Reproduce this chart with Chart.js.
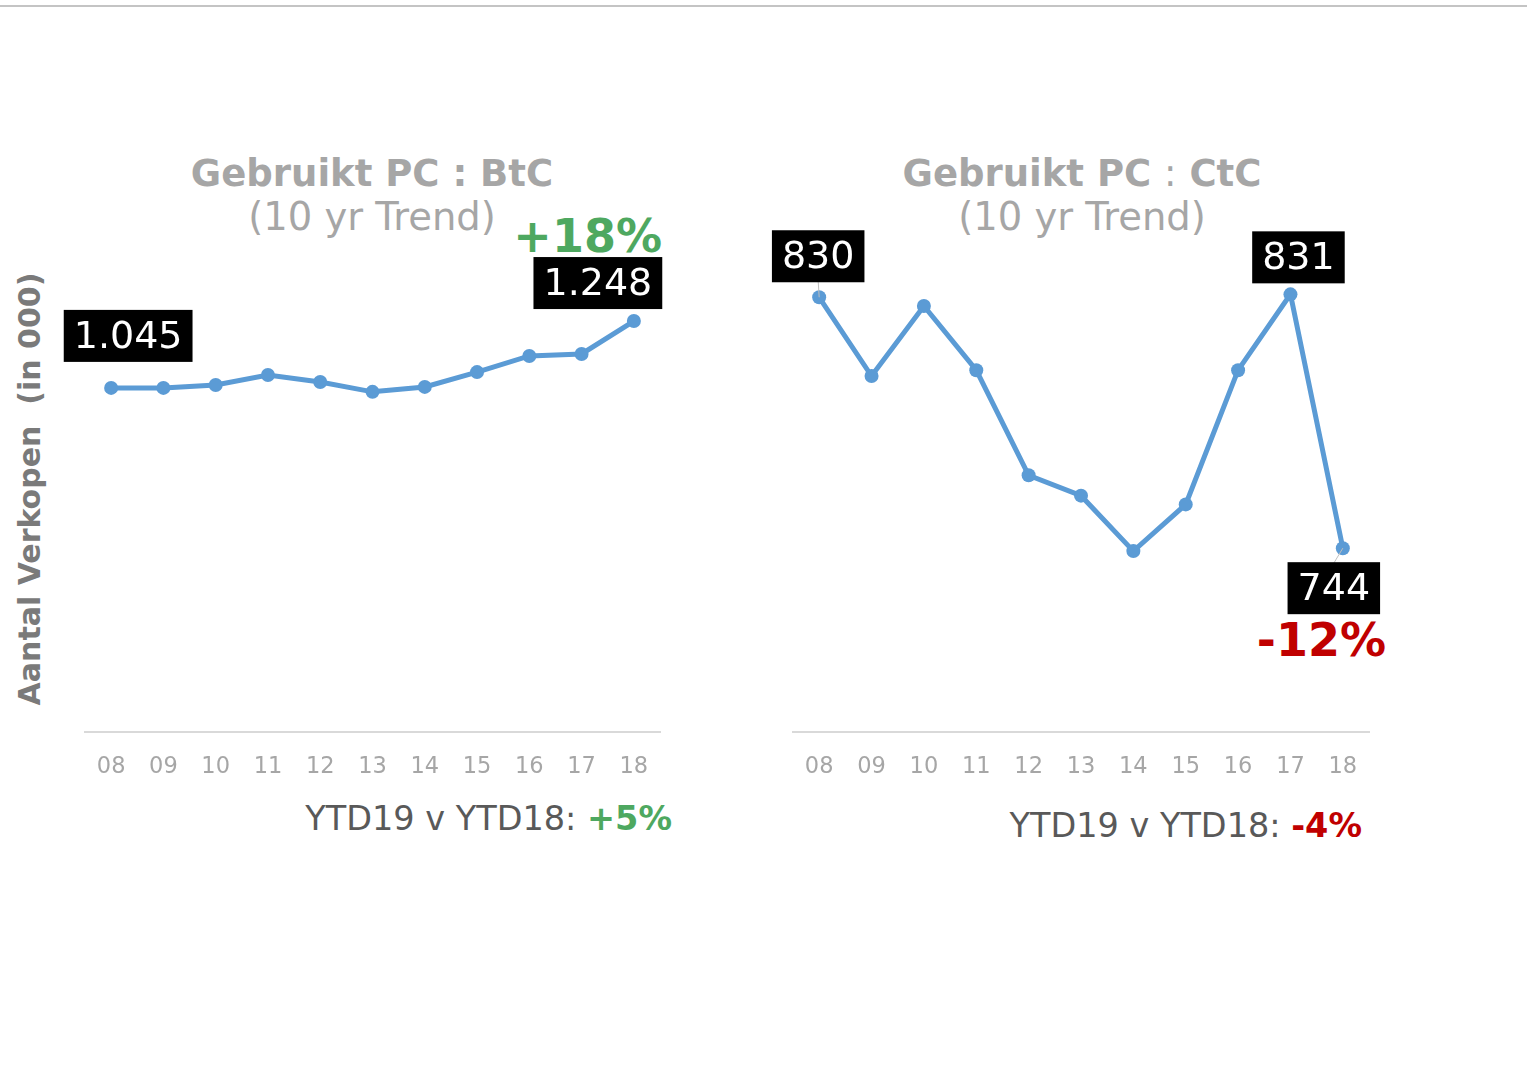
<!DOCTYPE html>
<html>
<head>
<meta charset="utf-8">
<script src="https://cdn.jsdelivr.net/npm/chart.js@4"></script>
<style>
	html, body { margin: 0; padding: 0; background: #fff; }
	body { width: 1527px; height: 1069px; position: relative; overflow: hidden; font-family: "DejaVu Sans", Verdana, sans-serif; }
	.topline { position: absolute; left: 0; top: 5px; width: 1527px; height: 2px; background: #c4c4c4; }
	.txt { position: absolute; white-space: nowrap; line-height: 1; }
	.title { font-size: 37px; font-weight: bold; color: #a6a6a6; text-align: center; width: 600px; }
	.sub { font-size: 38.5px; color: #a6a6a6; text-align: center; width: 600px; }
	.pct { font-size: 46px; font-weight: bold; }
	.ytd { font-size: 33.5px; color: #595959; }
	.green { color: #4ea860; }
	.red { color: #c00000; }
	canvas { position: absolute; top: 0; }
	.ytitle { position: absolute; left: 29px; top: 489px; transform: translate(-50%, -50%) rotate(-90deg); font-size: 30px; font-weight: bold; color: #7a7a7a; white-space: nowrap; }
</style>
</head>
<body>
<div class="topline"></div>

<div class="txt title" style="left:72px; top:155px;">Gebruikt PC : BtC</div>
<div class="txt sub" style="left:72px; top:198px;">(10 yr Trend)</div>
<div class="txt pct green" style="right:865px; top:213px;">+18%</div>

<div class="txt title" style="left:782px; top:155px;">Gebruikt PC <span style="font-weight:normal">:</span> CtC</div>
<div class="txt sub" style="left:782px; top:198px;">(10 yr Trend)</div>
<div class="txt pct red" style="right:141px; top:617px;">-12%</div>

<div class="txt ytd" style="right:855px; top:802px;">YTD19 v YTD18: <b class="green">+5%</b></div>
<div class="txt ytd" style="right:165px; top:809px;">YTD19 v YTD18: <b class="red">-4%</b></div>

<div class="ytitle">Aantal Verkopen&nbsp;&nbsp;(in 000)</div>

<canvas id="btcChart" style="left:0px;"></canvas>
<canvas id="ctcChart" style="left:710px;"></canvas>

<script>
	// years (x-axis categories)
	const years = ["08", "09", "10", "11", "12", "13", "14", "15", "16", "17", "18"];

	// aantal verkopen (in 000)
	const btcValues = [1045, 1045, 1054, 1084, 1063, 1033, 1048, 1093, 1142, 1148, 1248];
	const ctcValues = [830, 803, 827, 805, 769, 762, 743, 759, 805, 831, 744];

	// which points get a black value box
	const btcLabelIdx = [0, 10];
	const ctcLabelIdx = [0, 9, 10];

	const lineColor = "#5b9bd5";

	// 1045 -> "1.045"
	function formatNl(v) {
		return String(v).replace(/\B(?=(\d{3})+(?!\d))/g, ".");
	}

	// draws the black boxes with white numbers next to the points
	const valueBoxes = {
		id: "valueBoxes",
		afterDatasetsDraw(chart, args, opts) {
			const ctx = chart.ctx;
			const meta = chart.getDatasetMeta(0);
			const data = chart.data.datasets[0].data;
			ctx.save();
			ctx.font = '38px "DejaVu Sans", sans-serif';
			opts.boxes.forEach(function (b) {
				const pt = meta.data[b.index];
				const text = formatNl(data[b.index]);
				const w = ctx.measureText(text).width + 20;
				const h = 52;
				const cx = pt.x + b.dx;
				const cy = pt.y + b.dy;
				if (b.leader) {
					ctx.strokeStyle = "#bfbfbf";
					ctx.lineWidth = 1;
					ctx.beginPath();
					ctx.moveTo(pt.x, pt.y);
					ctx.lineTo(cx + b.leader[0], cy + b.leader[1]);
					ctx.stroke();
				}
				ctx.fillStyle = "#000";
				ctx.fillRect(cx - w / 2, cy - h / 2, w, h);
				ctx.fillStyle = "#fff";
				ctx.textAlign = "center";
				ctx.textBaseline = "middle";
				ctx.fillText(text, cx, cy + 2);
			});
			ctx.restore();
		},
	};

	function makeChart(id, values, yMin, yMax, padLeft, padRight, boxes) {
		const canvas = document.getElementById(id);
		canvas.width = 760;
		canvas.height = 900;
		return new Chart(canvas.getContext("2d"), {
			type: "line",
			data: {
				labels: years,
				datasets: [
					{
						data: values,
						borderColor: lineColor,
						backgroundColor: lineColor,
						borderWidth: 5,
						pointRadius: 7,
						pointBackgroundColor: lineColor,
						pointBorderWidth: 0,
						tension: 0,
					},
				],
			},
			options: {
				responsive: false,
				animation: false,
				layout: { padding: { left: padLeft, right: padRight, top: 271, bottom: 0 } },
				plugins: {
					legend: { display: false },
					tooltip: { enabled: false },
					valueBoxes: { boxes: boxes },
				},
				scales: {
					x: {
						offset: true,
						grid: { display: false },
						border: { display: true, color: "#d9d9d9", width: 2 },
						ticks: {
							color: "#a6a6a6",
							padding: 14,
							font: { family: '"DejaVu Sans", sans-serif', size: 22.5 },
						},
						afterFit: function (scale) {
							scale.height = 168;
						},
					},
					y: {
						display: false,
						min: yMin,
						max: yMax,
					},
				},
			},
			plugins: [valueBoxes],
		});
	}

	makeChart("btcChart", btcValues, 0, 1400, 85, 100, [
		{ index: btcLabelIdx[0], dx: 17, dy: -52 },
		{ index: btcLabelIdx[1], dx: -36, dy: -38 },
	]);

	makeChart("ctcChart", ctcValues, 681, 839, 83, 101, [
		{ index: ctcLabelIdx[0], dx: -1, dy: -41, leader: [0, 25] },
		{ index: ctcLabelIdx[1], dx: 8, dy: -37 },
		{ index: ctcLabelIdx[2], dx: -9, dy: 40, leader: [0, -25] },
	]);
</script>
</body>
</html>
